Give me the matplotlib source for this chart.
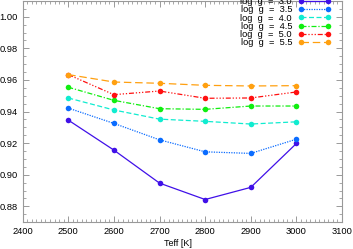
import numpy as np
import matplotlib.pyplot as plt
from matplotlib.ticker import MultipleLocator

# ----------------------------
# Data
# ----------------------------

teff = [2500, 2600, 2700, 2800, 2900, 3000]

logg_labels = ["log  g  =  3.0", "log  g  =  3.5", "log  g  =  4.0",
               "log  g  =  4.5", "log  g  =  5.0", "log  g  =  5.5"]

y_30 = [0.9346, 0.9156, 0.8947, 0.8843, 0.8920, 0.9198]
y_35 = [0.9422, 0.9325, 0.9221, 0.9145, 0.9135, 0.9225]
y_40 = [0.9486, 0.9410, 0.9352, 0.9338, 0.9321, 0.9335]
y_45 = [0.9554, 0.9471, 0.9418, 0.9414, 0.9435, 0.9435]
y_50 = [0.9634, 0.9507, 0.9530, 0.9484, 0.9486, 0.9524]
y_55 = [0.9634, 0.9587, 0.9579, 0.9566, 0.9562, 0.9564]

series = [y_30, y_35, y_40, y_45, y_50, y_55]
colors = ["#4010e8", "#0a6cff", "#10ecd0", "#10ee10", "#ff1010", "#ffa010"]
styles = ["-", (0, (1, 1)), (0, (4, 2)), (0, (4, 1.5, 1, 1.5)),
          (0, (4, 1.5, 1, 1.5, 1, 1.5, 1, 1.5)), (0, (6, 3))]

# ----------------------------
# Plot
# ----------------------------

plt.rcParams['font.family'] = ['Liberation Sans', 'DejaVu Sans']

fig = plt.figure(figsize=(3.53, 2.49), dpi=100)
ax = fig.add_axes([0.064, 0.108, 0.905, 0.888])

for ys, c, ls, lab in zip(series, colors, styles, logg_labels):
    ax.plot(teff, ys, color=c, linestyle=ls, linewidth=0.9,
            marker='o', markersize=4, markeredgewidth=0, label=lab)

ax.set_xlim(2400, 3100)
ax.set_ylim(0.87, 1.01)

ax.xaxis.set_major_locator(MultipleLocator(100))
ax.xaxis.set_minor_locator(MultipleLocator(10))
ax.yaxis.set_major_locator(MultipleLocator(0.02))
ax.yaxis.set_minor_locator(MultipleLocator(0.005))
ax.yaxis.set_major_formatter(plt.FormatStrFormatter('%.2f'))

ax.tick_params(which='both', direction='in', top=True, right=True,
               color='#999999', labelsize=6.7, pad=3.5)
ax.tick_params(which='major', length=4, width=0.7)
ax.tick_params(which='minor', length=2.3, width=0.6)
for sp in ax.spines.values():
    sp.set_color('#999999')
    sp.set_linewidth(0.8)

ax.set_xlabel("Teff [K]", fontsize=6.5, labelpad=2)
ax.xaxis.set_label_coords(0.485, -0.075)

leg = fig.legend(loc='upper right', bbox_to_anchor=(0.938, 1.012),
                 frameon=False, fontsize=6.7, numpoints=2, markerfirst=False,
                 handlelength=3.5, handletextpad=0.7, labelspacing=-0.08,
                 borderpad=0, borderaxespad=0)

plt.savefig("out.png", dpi=100)
